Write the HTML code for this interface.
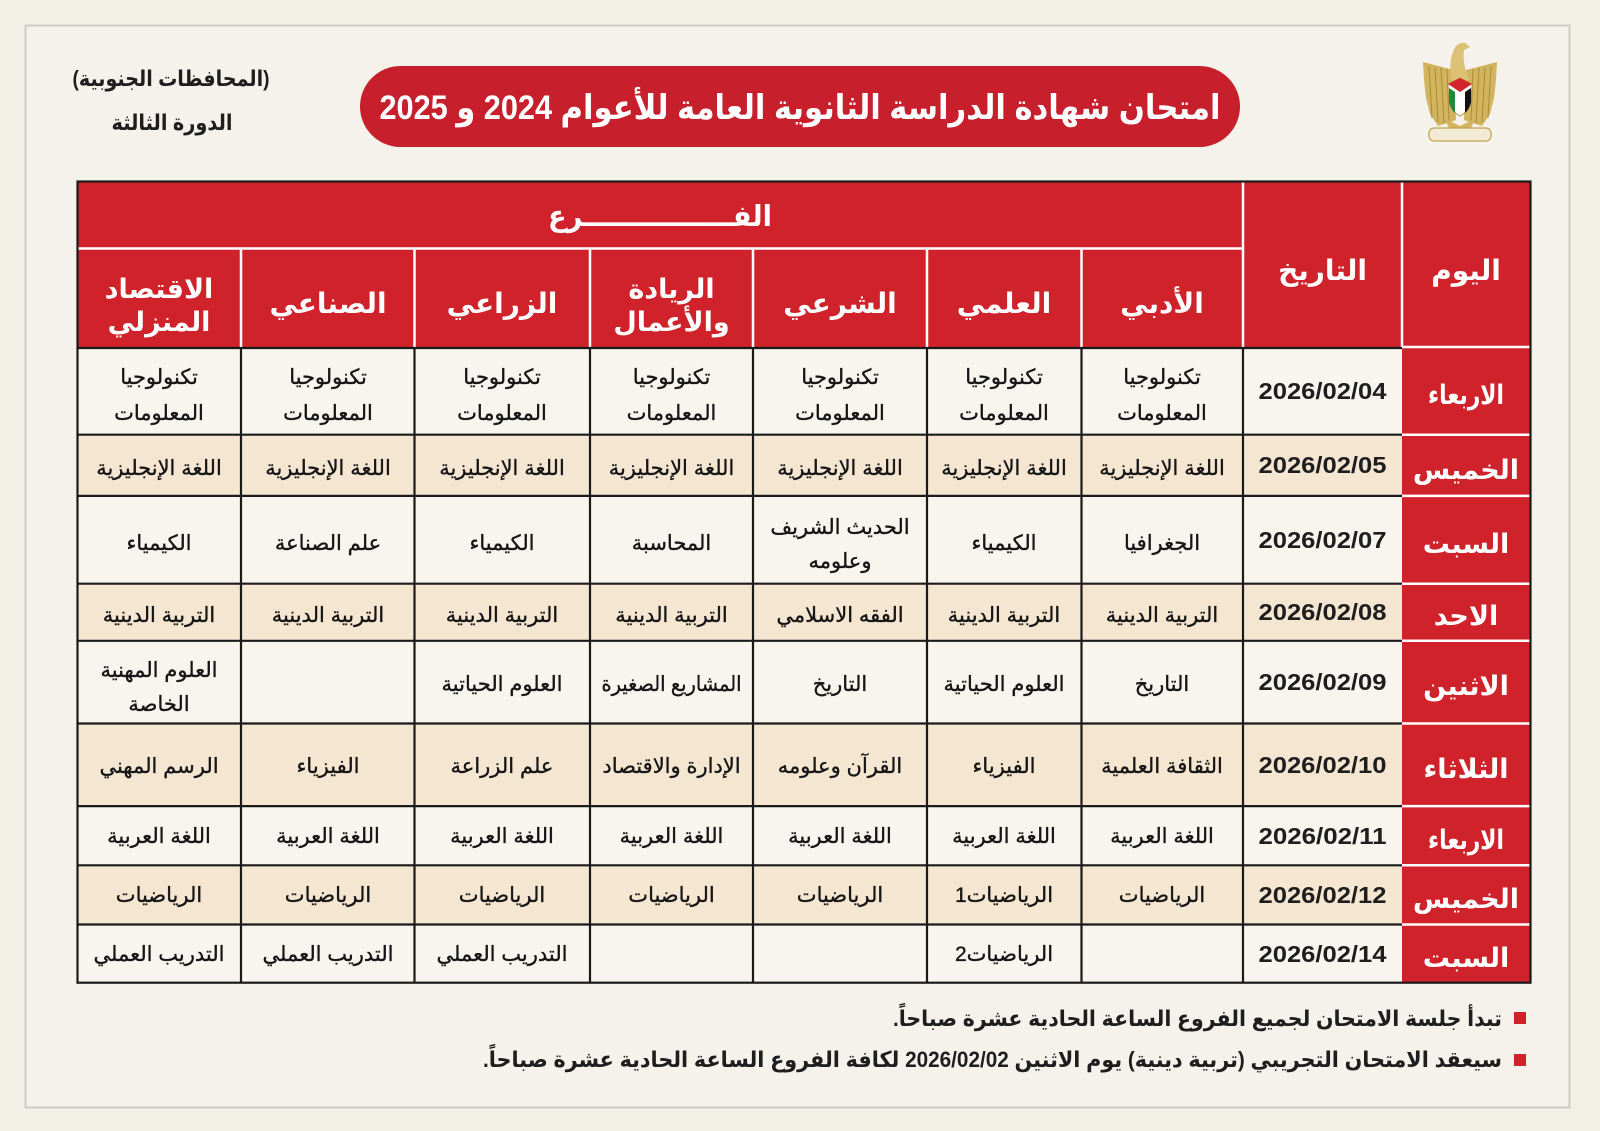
<!DOCTYPE html>
<html><head><meta charset="utf-8">
<style>
html,body{margin:0;padding:0;background:#f2f0e6;}
svg{display:block;}
text{font-family:"Liberation Sans","DejaVu Sans",sans-serif;}
</style></head>
<body>
<svg width="1600" height="1131" viewBox="0 0 1600 1131" xmlns="http://www.w3.org/2000/svg">
<rect x="0" y="0" width="1600" height="1131" fill="#f2f0e6"/>
<rect x="25.5" y="25.5" width="1544" height="1082" fill="#f4f2ea" stroke="#cdcbc2" stroke-width="2"/>

<!-- Title pill -->
<rect x="360" y="66" width="880" height="81" rx="40.5" ry="40.5" fill="#c71f2c"/>
<text x="800" y="119" direction="rtl" text-anchor="middle" font-size="34" font-weight="bold" fill="#ffffff" textLength="841" lengthAdjust="spacingAndGlyphs">امتحان شهادة الدراسة الثانوية العامة للأعوام 2024 و 2025</text>

<!-- Left text -->
<text x="171" y="86" direction="rtl" text-anchor="middle" font-size="22" font-weight="bold" fill="#1e1e1e" textLength="197" lengthAdjust="spacingAndGlyphs">(المحافظات الجنوبية)</text>
<text x="172" y="130" direction="rtl" text-anchor="middle" font-size="22" font-weight="bold" fill="#1e1e1e" textLength="121" lengthAdjust="spacingAndGlyphs">الدورة الثالثة</text>

<!-- Emblem -->
<g>
  <path d="M1454 70 L1423 62 L1424 80 L1426 98 L1430 114 L1438 126 L1456 120 Z" fill="#d3b45e"/>
  <path d="M1466 70 L1497 62 L1496 80 L1494 98 L1490 114 L1482 126 L1464 120 Z" fill="#d3b45e"/>
  <g stroke="#a98b38" stroke-width="1">
    <line x1="1429" y1="66" x2="1432" y2="118"/><line x1="1435" y1="67" x2="1438" y2="122"/><line x1="1441" y1="68" x2="1444" y2="123"/><line x1="1447" y1="69" x2="1449" y2="121"/>
    <line x1="1491" y1="66" x2="1488" y2="118"/><line x1="1485" y1="67" x2="1482" y2="122"/><line x1="1479" y1="68" x2="1476" y2="123"/><line x1="1473" y1="69" x2="1471" y2="121"/>
  </g>
  <path d="M1451 80 Q1449 62 1453 52 Q1456 42 1465 43 L1470 47 L1464 50 Q1462 62 1469 80 Z" fill="#dcc174"/>
  <path d="M1448 84 L1460 78 L1472 84 L1471 102 Q1468 112 1460 116 Q1452 112 1449 102 Z" fill="#ffffff" stroke="#b9973f" stroke-width="1"/>
  <path d="M1448 84 L1460 78 L1472 84 L1460 92 Z" fill="#d3232d"/>
  <path d="M1449 88 L1455 92 L1455 113 Q1451 110 1449 102 Z" fill="#1d8a3e"/>
  <path d="M1465 92 L1471 88 L1471 102 Q1469 110 1465 113 Z" fill="#111111"/>
  <path d="M1444 118 L1460 126 L1476 118 L1470 130 L1450 130 Z" fill="#d3b45e"/>
  <rect x="1429" y="128" width="62" height="13" rx="5" fill="#f1ead4" stroke="#c4a24a" stroke-width="1.2"/>
</g>

<!-- Table header -->
<rect x="77.5" y="181.5" width="1453" height="166" fill="#d0222a"/>
<g stroke="#ffffff" stroke-width="2.5">
  <line x1="77.5" y1="248.5" x2="1243" y2="248.5"/>
  <line x1="1243" y1="181.5" x2="1243" y2="347"/>
  <line x1="1402" y1="181.5" x2="1402" y2="347"/>
  <line x1="241" y1="248.5" x2="241" y2="347"/>
  <line x1="414.5" y1="248.5" x2="414.5" y2="347"/>
  <line x1="590" y1="248.5" x2="590" y2="347"/>
  <line x1="753" y1="248.5" x2="753" y2="347"/>
  <line x1="927" y1="248.5" x2="927" y2="347"/>
  <line x1="1081.5" y1="248.5" x2="1081.5" y2="347"/>
</g>

<g fill="#ffffff" font-weight="bold" text-anchor="middle" direction="rtl">
  <text x="660" y="226" font-size="29" textLength="224" lengthAdjust="spacingAndGlyphs">الفــــــــــــــــرع</text>
  <text x="1466" y="280" font-size="28">اليوم</text>
  <text x="1322.5" y="280" font-size="28">التاريخ</text>
  <text x="1162" y="313" font-size="28">الأدبي</text>
  <text x="1004" y="313" font-size="28">العلمي</text>
  <text x="840" y="313" font-size="28">الشرعي</text>
  <text x="671.5" y="298" font-size="27">الريادة</text>
  <text x="671.5" y="331" font-size="27">والأعمال</text>
  <text x="502" y="313" font-size="28">الزراعي</text>
  <text x="328" y="313" font-size="28">الصناعي</text>
  <text x="159" y="298" font-size="27">الاقتصاد</text>
  <text x="159" y="331" font-size="27">المنزلي</text>
</g>

<!-- Body rows -->
<g>
  <rect x="77.5" y="347" width="1324.5" height="87.7" fill="#f7f5ee"/>
  <rect x="77.5" y="434.7" width="1324.5" height="61.2" fill="#f5e6d2"/>
  <rect x="77.5" y="495.9" width="1324.5" height="87.8" fill="#f7f5ee"/>
  <rect x="77.5" y="583.7" width="1324.5" height="57.1" fill="#f5e6d2"/>
  <rect x="77.5" y="640.8" width="1324.5" height="82.7" fill="#f7f5ee"/>
  <rect x="77.5" y="723.5" width="1324.5" height="82.6" fill="#f5e6d2"/>
  <rect x="77.5" y="806.1" width="1324.5" height="59.2" fill="#f7f5ee"/>
  <rect x="77.5" y="865.3" width="1324.5" height="59.2" fill="#f5e6d2"/>
  <rect x="77.5" y="924.5" width="1324.5" height="58.2" fill="#f7f5ee"/>
  <rect x="1402" y="347" width="128.5" height="635.7" fill="#d0222a"/>
</g>
<g stroke="#1a1a1a" stroke-width="2.2">
  <line x1="77.5" y1="348" x2="1402" y2="348"/>
  <line x1="77.5" y1="434.7" x2="1402" y2="434.7"/>
  <line x1="77.5" y1="495.9" x2="1402" y2="495.9"/>
  <line x1="77.5" y1="583.7" x2="1402" y2="583.7"/>
  <line x1="77.5" y1="640.8" x2="1402" y2="640.8"/>
  <line x1="77.5" y1="723.5" x2="1402" y2="723.5"/>
  <line x1="77.5" y1="806.1" x2="1402" y2="806.1"/>
  <line x1="77.5" y1="865.3" x2="1402" y2="865.3"/>
  <line x1="77.5" y1="924.5" x2="1402" y2="924.5"/>
  <line x1="241" y1="347" x2="241" y2="982.7"/>
  <line x1="414.5" y1="347" x2="414.5" y2="982.7"/>
  <line x1="590" y1="347" x2="590" y2="982.7"/>
  <line x1="753" y1="347" x2="753" y2="982.7"/>
  <line x1="927" y1="347" x2="927" y2="982.7"/>
  <line x1="1081.5" y1="347" x2="1081.5" y2="982.7"/>
  <line x1="1243" y1="347" x2="1243" y2="982.7"/>
</g>
<g stroke="#ffffff" stroke-width="2.5">
  <line x1="1402" y1="347" x2="1530.5" y2="347"/>
  <line x1="1402" y1="434.7" x2="1530.5" y2="434.7"/>
  <line x1="1402" y1="495.9" x2="1530.5" y2="495.9"/>
  <line x1="1402" y1="583.7" x2="1530.5" y2="583.7"/>
  <line x1="1402" y1="640.8" x2="1530.5" y2="640.8"/>
  <line x1="1402" y1="723.5" x2="1530.5" y2="723.5"/>
  <line x1="1402" y1="806.1" x2="1530.5" y2="806.1"/>
  <line x1="1402" y1="865.3" x2="1530.5" y2="865.3"/>
  <line x1="1402" y1="924.5" x2="1530.5" y2="924.5"/>
</g>
<rect x="77.5" y="181.5" width="1453" height="801.2" fill="none" stroke="#1a1a1a" stroke-width="2.2"/>

<!-- Day column -->
<g fill="#ffffff" font-weight="bold" font-size="27" text-anchor="middle" direction="rtl">
  <text x="1466" y="404" textLength="76" lengthAdjust="spacingAndGlyphs">الاربعاء</text>
  <text x="1466" y="479">الخميس</text>
  <text x="1466" y="553">السبت</text>
  <text x="1466" y="625">الاحد</text>
  <text x="1466" y="695">الاثنين</text>
  <text x="1466" y="778">الثلاثاء</text>
  <text x="1466" y="849" textLength="76" lengthAdjust="spacingAndGlyphs">الاربعاء</text>
  <text x="1466" y="908">الخميس</text>
  <text x="1466" y="967">السبت</text>
</g>

<!-- Dates -->
<g fill="#1e1e1e" font-weight="bold" font-size="23" text-anchor="middle">
  <text x="1322.5" y="399" textLength="128" lengthAdjust="spacingAndGlyphs">2026/02/04</text>
  <text x="1322.5" y="473" textLength="128" lengthAdjust="spacingAndGlyphs">2026/02/05</text>
  <text x="1322.5" y="548" textLength="128" lengthAdjust="spacingAndGlyphs">2026/02/07</text>
  <text x="1322.5" y="620" textLength="128" lengthAdjust="spacingAndGlyphs">2026/02/08</text>
  <text x="1322.5" y="690" textLength="128" lengthAdjust="spacingAndGlyphs">2026/02/09</text>
  <text x="1322.5" y="773" textLength="128" lengthAdjust="spacingAndGlyphs">2026/02/10</text>
  <text x="1322.5" y="844" textLength="128" lengthAdjust="spacingAndGlyphs">2026/02/11</text>
  <text x="1322.5" y="903" textLength="128" lengthAdjust="spacingAndGlyphs">2026/02/12</text>
  <text x="1322.5" y="962" textLength="128" lengthAdjust="spacingAndGlyphs">2026/02/14</text>
</g>

<!-- Body cells -->
<g fill="#151515" stroke="#151515" stroke-width="0.35" font-size="21" text-anchor="middle" direction="rtl">
  <!-- row 1 -->
  <text x="1162" y="384">تكنولوجيا</text><text x="1162" y="420">المعلومات</text>
  <text x="1004" y="384">تكنولوجيا</text><text x="1004" y="420">المعلومات</text>
  <text x="840" y="384">تكنولوجيا</text><text x="840" y="420">المعلومات</text>
  <text x="671.5" y="384">تكنولوجيا</text><text x="671.5" y="420">المعلومات</text>
  <text x="502" y="384">تكنولوجيا</text><text x="502" y="420">المعلومات</text>
  <text x="328" y="384">تكنولوجيا</text><text x="328" y="420">المعلومات</text>
  <text x="159" y="384">تكنولوجيا</text><text x="159" y="420">المعلومات</text>
  <!-- row 2 -->
  <text x="1162" y="475">اللغة الإنجليزية</text>
  <text x="1004" y="475">اللغة الإنجليزية</text>
  <text x="840" y="475">اللغة الإنجليزية</text>
  <text x="671.5" y="475">اللغة الإنجليزية</text>
  <text x="502" y="475">اللغة الإنجليزية</text>
  <text x="328" y="475">اللغة الإنجليزية</text>
  <text x="159" y="475">اللغة الإنجليزية</text>
  <!-- row 3 -->
  <text x="1162" y="550">الجغرافيا</text>
  <text x="1004" y="550">الكيمياء</text>
  <text x="840" y="534">الحديث الشريف</text><text x="840" y="568">وعلومه</text>
  <text x="671.5" y="550">المحاسبة</text>
  <text x="502" y="550">الكيمياء</text>
  <text x="328" y="550">علم الصناعة</text>
  <text x="159" y="550">الكيمياء</text>
  <!-- row 4 -->
  <text x="1162" y="622">التربية الدينية</text>
  <text x="1004" y="622">التربية الدينية</text>
  <text x="840" y="622">الفقه الاسلامي</text>
  <text x="671.5" y="622">التربية الدينية</text>
  <text x="502" y="622">التربية الدينية</text>
  <text x="328" y="622">التربية الدينية</text>
  <text x="159" y="622">التربية الدينية</text>
  <!-- row 5 -->
  <text x="1162" y="691">التاريخ</text>
  <text x="1004" y="691">العلوم الحياتية</text>
  <text x="840" y="691">التاريخ</text>
  <text x="671.5" y="691" textLength="140" lengthAdjust="spacingAndGlyphs">المشاريع الصغيرة</text>
  <text x="502" y="691">العلوم الحياتية</text>
  <text x="159" y="677">العلوم المهنية</text><text x="159" y="711">الخاصة</text>
  <!-- row 6 -->
  <text x="1162" y="773">الثقافة العلمية</text>
  <text x="1004" y="773">الفيزياء</text>
  <text x="840" y="773">القرآن وعلومه</text>
  <text x="671.5" y="773">الإدارة والاقتصاد</text>
  <text x="502" y="773">علم الزراعة</text>
  <text x="328" y="773">الفيزياء</text>
  <text x="159" y="773">الرسم المهني</text>
  <!-- row 7 -->
  <text x="1162" y="843">اللغة العربية</text>
  <text x="1004" y="843">اللغة العربية</text>
  <text x="840" y="843">اللغة العربية</text>
  <text x="671.5" y="843">اللغة العربية</text>
  <text x="502" y="843">اللغة العربية</text>
  <text x="328" y="843">اللغة العربية</text>
  <text x="159" y="843">اللغة العربية</text>
  <!-- row 8 -->
  <text x="1162" y="902">الرياضيات</text>
  <text x="1004" y="902">الرياضيات1</text>
  <text x="840" y="902">الرياضيات</text>
  <text x="671.5" y="902">الرياضيات</text>
  <text x="502" y="902">الرياضيات</text>
  <text x="328" y="902">الرياضيات</text>
  <text x="159" y="902">الرياضيات</text>
  <!-- row 9 -->
  <text x="1004" y="961">الرياضيات2</text>
  <text x="502" y="961">التدريب العملي</text>
  <text x="328" y="961">التدريب العملي</text>
  <text x="159" y="961">التدريب العملي</text>
</g>

<!-- Notes -->
<rect x="1514" y="1012" width="12" height="12" fill="#d0222a"/>
<rect x="1514" y="1054" width="12" height="12" fill="#d0222a"/>
<g fill="#1e1e1e" font-weight="bold" font-size="22" text-anchor="middle" direction="rtl">
  <text x="1197.5" y="1026" textLength="609" lengthAdjust="spacingAndGlyphs">تبدأ جلسة الامتحان لجميع الفروع الساعة الحادية عشرة صباحاً.</text>
  <text x="992.5" y="1067" textLength="1019" lengthAdjust="spacingAndGlyphs">سيعقد الامتحان التجريبي (تربية دينية) يوم الاثنين 2026/02/02 لكافة الفروع الساعة الحادية عشرة صباحاً.</text>
</g>
</svg>
</body></html>
